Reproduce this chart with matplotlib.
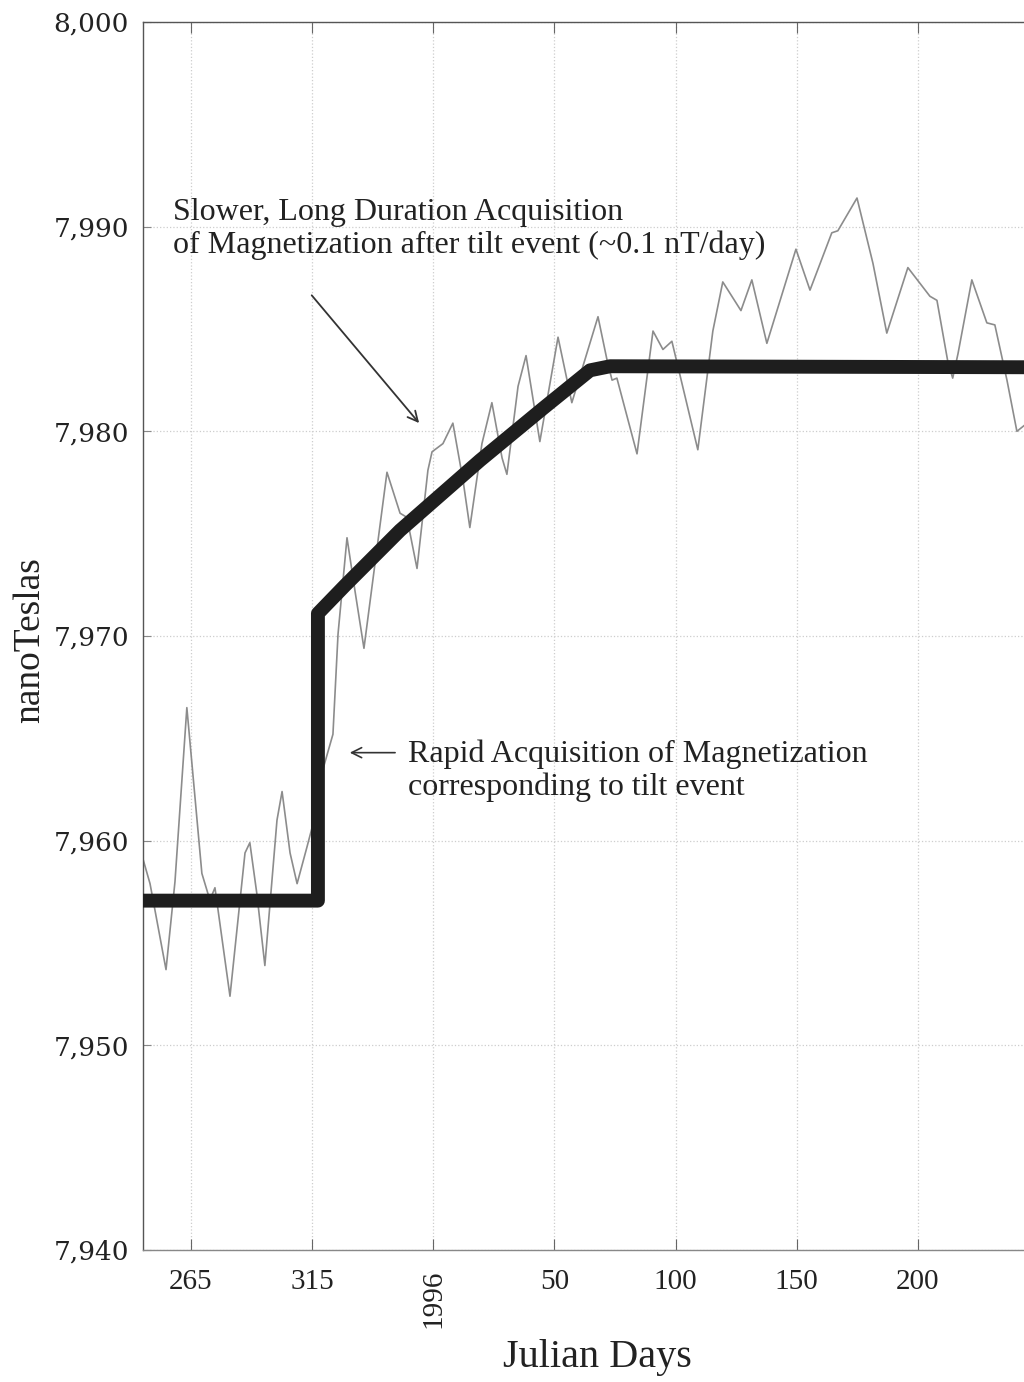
import matplotlib
matplotlib.use("Agg")
import matplotlib.pyplot as plt
import numpy as np

DPI = 100
FIGSIZE = (10.24, 13.82)

# days counted from the start of 1995 (365 = start of 1996)
raw_days = [245.2, 248.1, 254.7, 258.4, 263.3, 269.5, 272.8, 274.9, 281.1, 287.3,
            289.3, 292.2, 295.5, 300.5, 302.6, 305.9, 308.8, 312.9, 314.9, 317.4,
            319.5, 323.6, 325.7, 329.4, 332.7, 336.4, 341.8, 345.9, 351.3, 354.1,
            358.3, 362.8, 364.5, 369.0, 373.1, 377.3, 380.1, 385.1, 389.2, 393.4,
            395.4, 400.0, 403.3, 409.0, 416.5, 422.2, 433.0, 436.7, 438.8, 440.8,
            449.1, 455.7, 459.8, 463.5, 474.2, 480.4, 484.5, 492.0, 496.5, 502.7,
            514.7, 520.5, 529.5, 532.0, 539.9, 546.5, 552.2, 560.9, 570.0, 572.9,
            577.4, 579.4, 581.6, 587.3, 593.5, 596.8, 601.8, 605.9, 613.3]
raw_nt = [7959.1, 7957.9, 7953.7, 7958.0, 7966.5, 7958.4, 7957.1, 7957.7, 7952.4, 7959.4,
          7959.9, 7957.4, 7953.9, 7961.0, 7962.4, 7959.4, 7957.9, 7959.7, 7960.6, 7962.0,
          7963.5, 7965.2, 7970.1, 7974.8, 7972.2, 7969.4, 7974.3, 7978.0, 7976.0, 7975.8,
          7973.3, 7978.1, 7979.0, 7979.4, 7980.4, 7977.6, 7975.3, 7979.4, 7981.4, 7978.7,
          7977.9, 7982.2, 7983.7, 7979.5, 7984.6, 7981.4, 7985.6, 7983.5, 7982.5, 7982.6,
          7978.9, 7984.9, 7984.0, 7984.4, 7979.1, 7984.9, 7987.3, 7985.9, 7987.4, 7984.3,
          7988.9, 7986.9, 7989.7, 7989.8, 7991.4, 7988.2, 7984.8, 7988.0, 7986.6, 7986.4,
          7983.4, 7982.6, 7983.8, 7987.4, 7985.3, 7985.2, 7982.5, 7980.0, 7980.7]

model_days = [245.2, 317.4, 317.4, 328.6, 351.3, 384.3, 410.3, 429.7, 438.0, 613.3]
model_nt = [7957.07, 7957.07, 7971.1, 7972.47, 7975.16, 7978.58, 7981.12, 7982.98, 7983.18, 7983.13]

tick_days = [265, 315, 365, 415, 465, 515, 565]
tick_labels = ['265', '315', '1996', '50', '100', '150', '200']
ytick_values = [7940, 7950, 7960, 7970, 7980, 7990, 8000]

SERIF = 'Liberation Serif'
TXT = '#222222'

fig = plt.figure(figsize=FIGSIZE, dpi=DPI)
W, H = 1024, 1382
# axes runs past the right edge of the figure, like the cropped scan
ax = fig.add_axes([143 / W, 1 - 1250 / H, (1100 - 143) / W, (1250 - 22) / H])

ax.plot(raw_days, raw_nt, color='#8c8c8c', lw=1.2, solid_joinstyle='round', zorder=2)
ax.plot(model_days, model_nt, color='#1e1e1e', lw=10, solid_joinstyle='round',
        solid_capstyle='butt', zorder=3)

ax.set_xlim(245.2, 640.2)
ax.set_ylim(7940, 8000)

ax.set_xticks(tick_days)
ax.set_xticklabels(tick_labels, fontfamily=SERIF, fontsize=21, color=TXT)
for lab in ax.get_xticklabels():
    if lab.get_text() == '1996':
        lab.set_rotation(90)
        lab.set_va('top')
ax.set_yticks(ytick_values)
ax.set_yticklabels(['{:,}'.format(v) for v in ytick_values],
                   fontfamily='DejaVu Serif', fontsize=19, color=TXT)

ax.tick_params(axis='x', direction='in', top=True, bottom=True, length=8,
               width=0.8, color='#666666', pad=14)
ax.tick_params(axis='y', direction='in', left=True, right=False, length=6,
               width=0.8, color='#888888', pad=10)

ax.grid(True, linestyle=':', linewidth=0.9, color='#cdcdcd')
for side in ['left', 'top', 'bottom', 'right']:
    ax.spines[side].set_color('#555555')
    ax.spines[side].set_linewidth(1.0)
ax.spines['bottom'].set_color('#888888')

ax.annotate('', xy=(359.9, 7980.3), xytext=(314.1, 7986.75),
            arrowprops=dict(arrowstyle='->', color='#333333', lw=1.3,
                            mutation_scale=18))
ax.text(257.6, 7989.9,
        'Slower, Long Duration Acquisition\nof Magnetization after tilt event (~0.1 nT/day)',
        fontfamily=SERIF, fontsize=23, color=TXT, ha='left', va='center',
        linespacing=1.15)

ax.annotate('', xy=(329.4, 7964.3), xytext=(350.4, 7964.3),
            arrowprops=dict(arrowstyle='->', color='#333333', lw=1.2,
                            mutation_scale=18))
ax.text(354.6, 7963.4,
        'Rapid Acquisition of Magnetization\ncorresponding to tilt event',
        fontfamily=SERIF, fontsize=23, color=TXT, ha='left', va='center',
        linespacing=1.15)

fig.text(30 / W, 1 - 640 / H, 'nanoTeslas', rotation=90, fontfamily=SERIF,
         fontsize=27, color=TXT, ha='center', va='center')
fig.text(597 / W, 1 - 1357 / H, 'Julian Days', fontfamily=SERIF,
         fontsize=29, color=TXT, ha='center', va='center')

fig.savefig('out.png', dpi=DPI)
print("save file as out.png")
